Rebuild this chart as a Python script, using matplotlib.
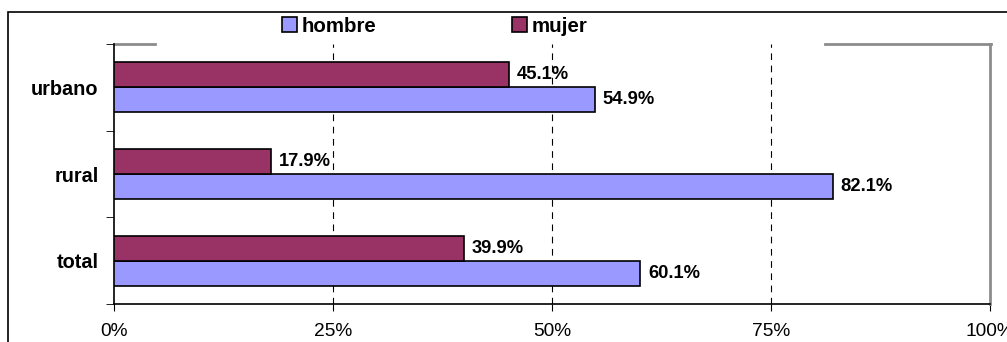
import matplotlib
matplotlib.use("Agg")
import matplotlib.pyplot as plt
import numpy as np
from matplotlib.lines import Line2D
from matplotlib.patches import Rectangle

categories = ["total", "rural", "urbano"]
hombre = [60.1, 82.1, 54.9]
mujer = [39.9, 17.9, 45.1]
xticks = [0, 25, 50, 75, 100]
xticklabels = ["0%", "25%", "50%", "75%", "100%"]

plt.rcParams['font.family'] = ['Liberation Sans', 'DejaVu Sans']

W, H = 1007, 342
fig = plt.figure(figsize=(W / 100, H / 100), dpi=100)
ax = fig.add_axes([114 / W, 1 - 304 / H, 876 / W, 260 / H])

y = np.arange(len(categories))
h = 0.29
c_h = "#9999FF"
c_m = "#993366"
bh = ax.barh(y - h / 2, hombre, height=h, color=c_h, edgecolor="black", linewidth=1.2, label="hombre", zorder=3)
bm = ax.barh(y + h / 2, mujer, height=h, color=c_m, edgecolor="black", linewidth=1.2, label="mujer", zorder=3)

for yi, v in zip(y - h / 2, hombre):
    ax.annotate(f"{v:.1f}%", (v, yi), xytext=(5.5, 0), textcoords="offset points",
                va="center", ha="left", fontsize=13.2, fontweight="bold", zorder=4)
for yi, v in zip(y + h / 2, mujer):
    ax.annotate(f"{v:.1f}%", (v, yi), xytext=(5.5, 0), textcoords="offset points",
                va="center", ha="left", fontsize=13.2, fontweight="bold", zorder=4)

ax.set_xlim(0, 100)
ax.set_ylim(-0.5, len(categories) - 0.5)
ax.set_xticks(xticks)
ax.set_xticklabels(xticklabels, fontsize=13.8)
ax.set_yticks(y)
ax.set_yticklabels(categories, fontsize=14.3, fontweight="bold")
ax.tick_params(axis="y", which="major", length=0, pad=11)
ax.set_yticks(np.arange(-0.5, len(categories)), minor=True)
ax.tick_params(axis="y", which="minor", length=6, direction="out", color="black")
ax.tick_params(axis="x", length=5, direction="out", pad=9)

for xv in xticks[1:-1]:
    ax.axvline(xv, color="black", linestyle=(0, (6, 5)), linewidth=0.8, zorder=1)

ax.spines["left"].set_color("black")
ax.spines["bottom"].set_color("black")
ax.spines["left"].set_linewidth(1.2)
ax.spines["bottom"].set_linewidth(1.2)
ax.spines["right"].set_color("#8c8c8c")
ax.spines["right"].set_linewidth(2)
ax.spines["top"].set_visible(False)
# top border of plot area, interrupted by the legend
ax.add_line(Line2D([0, (155 - 114) / 876], [1, 1], transform=ax.transAxes, color="#8c8c8c", lw=2, clip_on=False))
ax.add_line(Line2D([(825 - 114) / 876, 1.001], [1, 1], transform=ax.transAxes, color="#8c8c8c", lw=2, clip_on=False))

# outer chart frame
fig.add_artist(Rectangle((8 / W, -0.1), 1.2, 1 - 12 / H + 0.1, transform=fig.transFigure,
                         fill=False, edgecolor="black", linewidth=1.2))

leg = fig.legend(handles=[bh, bm], labels=["hombre", "mujer"], loc="center left",
                 bbox_to_anchor=(282 / W, 1 - 26 / H), ncol=2, frameon=False,
                 prop={"weight": "bold", "size": 14.8}, handlelength=0.75, handleheight=0.75,
                 handletextpad=0.2, columnspacing=6.6, borderaxespad=0, borderpad=0)

fig.savefig("out.png", dpi=100)
